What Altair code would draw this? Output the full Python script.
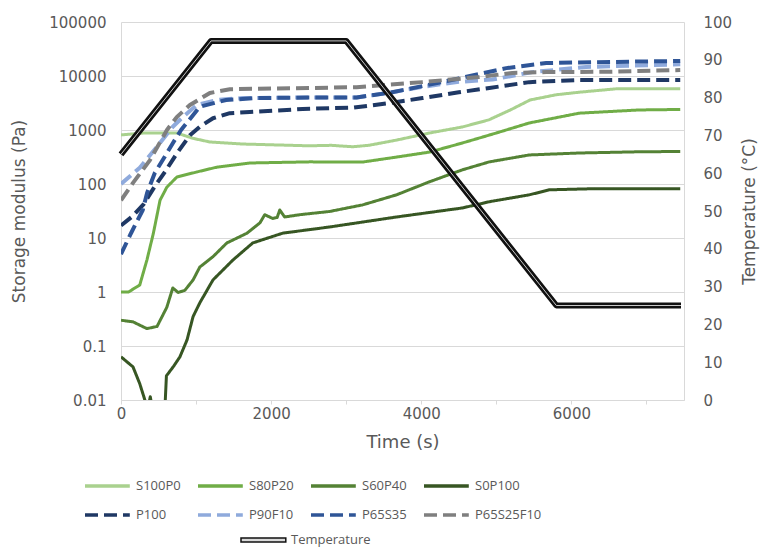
import altair as alt
import pandas as pd

# ---------------- data ----------------
series_names = ["S100P0", "S80P20", "S60P40", "S0P100",
                "P100", "P90F10", "P65S35", "P65S25F10"]
series_colors = ["#a9d18e", "#70ad47", "#548235", "#375623",
                 "#1f3864", "#8faadc", "#2f5597", "#7f7f7f"]

t_S100P0 = [0, 300, 745, 960, 1184, 1620, 2500, 2800, 3085, 3300, 3670, 4110, 4550, 4900, 5200, 5450, 5800, 6100, 6600, 7450]
g_S100P0 = [810, 880, 880, 700, 600, 550, 510, 520, 490, 520, 650, 880, 1140, 1540, 2400, 3600, 4500, 5000, 5800, 5800]

t_S80P20 = [0, 100, 250, 345, 430, 520, 610, 745, 1010, 1277, 1715, 2513, 3218, 3670, 4110, 4548, 5000, 5439, 6104, 6900, 7450]
g_S80P20 = [1.0, 1.0, 1.35, 3.9, 12, 50, 87, 135, 167, 205, 245, 257, 255, 315, 390, 575, 880, 1350, 2050, 2350, 2400]

t_S60P40 = [0, 160, 345, 480, 610, 690, 760, 850, 960, 1050, 1225, 1410, 1675, 1850, 1915, 2020, 2080, 2115, 2180, 2380, 2779, 3218, 3670, 4110, 4548, 4907, 5439, 6104, 6900, 7450]
g_S60P40 = [0.30, 0.28, 0.21, 0.23, 0.52, 1.19, 0.98, 1.07, 1.67, 2.9, 4.5, 8.1, 12.2, 19, 27, 23, 24, 33, 24.5, 27, 31, 41, 63, 110, 183, 257, 345, 375, 395, 400]

t_S0P100 = [0, 160, 250, 320, 350, 375, 390, 410, 440, 520, 580, 605, 700, 785, 880, 960, 1050, 1225, 1490, 1755, 2155, 2779, 3670, 4548, 4907, 5439, 5705, 6330, 7450]
g_S0P100 = [0.063, 0.041, 0.02, 0.0098, 0.006, 0.009, 0.0115, 0.008, 0.005, 0.003, 0.005, 0.028, 0.042, 0.063, 0.13, 0.35, 0.63, 1.67, 3.9, 8.1, 12.3, 16, 24.5, 36, 47, 63, 78, 82, 82]

t_P100 = [0, 150, 300, 450, 600, 745, 918, 1050, 1225, 1450, 1715, 2420, 3100, 3577, 4016, 4500, 4907, 5439, 6104, 7450]
g_P100 = [17, 25, 42, 90, 180, 370, 800, 1150, 1650, 2050, 2150, 2450, 2600, 3150, 3900, 5000, 6000, 7700, 8400, 8400]

t_P90F10 = [0, 250, 520, 690, 825, 1010, 1277, 1620, 2513, 3138, 3577, 4016, 4500, 4947, 5479, 6197, 7450]
g_P90F10 = [100, 200, 575, 1150, 1750, 2900, 3600, 3900, 4000, 4000, 4900, 6300, 7800, 8600, 11800, 14700, 16500]

t_P65S35 = [0, 130, 290, 350, 450, 570, 700, 800, 1050, 1400, 1800, 2500, 3138, 3577, 4016, 4500, 5133, 5665, 6543, 7450]
g_P65S35 = [5, 12, 33, 70, 160, 300, 600, 1000, 2700, 3600, 3900, 4000, 4000, 4900, 6500, 9000, 14000, 17400, 18200, 19000]

t_P65S25F10 = [0, 160, 386, 612, 745, 918, 1184, 1450, 2513, 3138, 4016, 4774, 5213, 5665, 6543, 7450]
g_P65S25F10 = [50, 105, 277, 1000, 1750, 2900, 4860, 5700, 6000, 6200, 7700, 9600, 11400, 11800, 12000, 12900]

t_temp = [0, 1200, 3000, 5800, 7460]
temp_c = [65, 95, 95, 25, 25]

y_ticks = [0.01, 0.1, 1, 10, 100, 1000, 10000, 100000]
x_ticks = [0, 1000, 2000, 3000, 4000, 5000, 6000, 7000]
t_ticks = [0, 10, 20, 30, 40, 50, 60, 70, 80, 90, 100]

# ---------------- tables ----------------
all_t = [t_S100P0, t_S80P20, t_S60P40, t_S0P100, t_P100, t_P90F10, t_P65S35, t_P65S25F10]
all_g = [g_S100P0, g_S80P20, g_S60P40, g_S0P100, g_P100, g_P90F10, g_P65S35, g_P65S25F10]
rows = []
for i, (name, ts, gs) in enumerate(zip(series_names, all_t, all_g)):
    for t, g in zip(ts, gs):
        rows.append({"series": name, "t": t, "g": g, "kind": "solid" if i < 4 else "dash"})
df = pd.DataFrame(rows)
df_solid = df[df["kind"] == "solid"]
df_dash = df[df["kind"] == "dash"]
df_temp = pd.DataFrame({"t": t_temp, "temp": temp_c, "label": "Temperature"})

TXT = "#595959"
GRID = "#d9d9d9"
TICKFONT = "DejaVu Sans"
LEGFONT = "Open Sans"

x_enc = alt.X("t:Q",
              scale=alt.Scale(domain=[0, 7500], nice=False),
              axis=alt.Axis(values=x_ticks,
                            labelExpr="datum.value % 2000 == 0 ? '' + datum.value : ''",
                            title="Time (s)", grid=False, tickSize=4, tickColor=GRID,
                            domainColor=GRID, labelPadding=2, titlePadding=12,
                            labelFlush=False,
                            labelFont=TICKFONT, labelFontSize=15, labelColor=TXT,
                            titleFont=TICKFONT, titleFontSize=18, titleColor=TXT,
                            titleFontWeight="normal"))

y_enc = alt.Y("g:Q",
              scale=alt.Scale(type="log", domain=[0.01, 100000], nice=False),
              axis=alt.Axis(values=y_ticks, labelExpr="'' + datum.value",
                            title="Storage modulus (Pa)", grid=True, gridColor=GRID,
                            ticks=False, domainColor=GRID, labelPadding=15, titlePadding=20,
                            labelFont=TICKFONT, labelFontSize=15, labelColor=TXT,
                            titleFont=TICKFONT, titleFontSize=17, titleColor=TXT,
                            titleFontWeight="normal"))

color_scale = alt.Scale(domain=series_names, range=series_colors)
dash_scale = alt.Scale(domain=series_names,
                       range=[[1, 0], [1, 0], [1, 0], [1, 0],
                              [13, 6], [13, 6], [13, 6], [13, 6]])

main_legend = alt.Legend(title=None, orient="none", legendX=-38, legendY=448,
                         columns=4, direction="horizontal",
                         symbolType="M-1,0H2.2", symbolSize=784, symbolStrokeWidth=3.5,
                         labelOffset=21, columnPadding=10, rowPadding=6,
                         labelFont=LEGFONT, labelFontSize=13, labelColor=TXT)

solid = alt.Chart(df_solid).mark_line(strokeWidth=3, clip=True, strokeJoin="round").encode(
    x=x_enc, y=y_enc,
    color=alt.Color("series:N", scale=color_scale, legend=main_legend),
    strokeDash=alt.StrokeDash("series:N", scale=dash_scale, legend=main_legend),
)
dashed = alt.Chart(df_dash).mark_line(strokeWidth=4, clip=True, strokeJoin="round").encode(
    x=x_enc, y=y_enc,
    color=alt.Color("series:N", scale=color_scale, legend=main_legend),
    strokeDash=alt.StrokeDash("series:N", scale=dash_scale, legend=main_legend),
)
gprime = alt.layer(solid, dashed)

temp_axis = alt.Axis(orient="right", values=t_ticks, title="Temperature (°C)",
                     grid=False, ticks=False, domainColor=GRID, labelPadding=19,
                     titlePadding=27, titleAngle=270,
                     labelFont=TICKFONT, labelFontSize=15, labelColor=TXT,
                     titleFont=TICKFONT, titleFontSize=17, titleColor=TXT,
                     titleFontWeight="normal")
ty_enc = alt.Y("temp:Q", scale=alt.Scale(domain=[0, 100], nice=False), axis=temp_axis)

temp_legend = alt.Legend(title=None, orient="none", legendX=119, legendY=503,
                         symbolType="M-1,-0.15H2.2V0.15H-1Z", symbolSize=784,
                         symbolStrokeWidth=1.5, symbolFillColor="#d9d9d9",
                         labelOffset=21,
                         labelFont=LEGFONT, labelFontSize=13, labelColor=TXT)

temp_black = alt.Chart(df_temp).mark_line(strokeWidth=6, strokeJoin="round").encode(
    x=x_enc, y=ty_enc,
    color=alt.Color("label:N", scale=alt.Scale(domain=["Temperature"], range=["#111111"]),
                    legend=temp_legend),
)
temp_white = alt.Chart(df_temp).mark_line(strokeWidth=1, strokeJoin="round", color="#c8c8c8").encode(
    x=x_enc, y=ty_enc,
)
temperature = alt.layer(temp_black, temp_white)

chart = alt.layer(gprime, temperature).resolve_scale(
    y="independent", color="independent", strokeDash="independent"
).resolve_legend(color="independent").properties(
    width=563, height=378,
    autosize=alt.AutoSizeParams(type="none"),
    padding={"left": 113, "top": 14, "right": 76, "bottom": 150},
    background="white",
).configure_view(stroke=None)

chart.save("out.html", embed_options={"renderer": "svg", "actions": False})
